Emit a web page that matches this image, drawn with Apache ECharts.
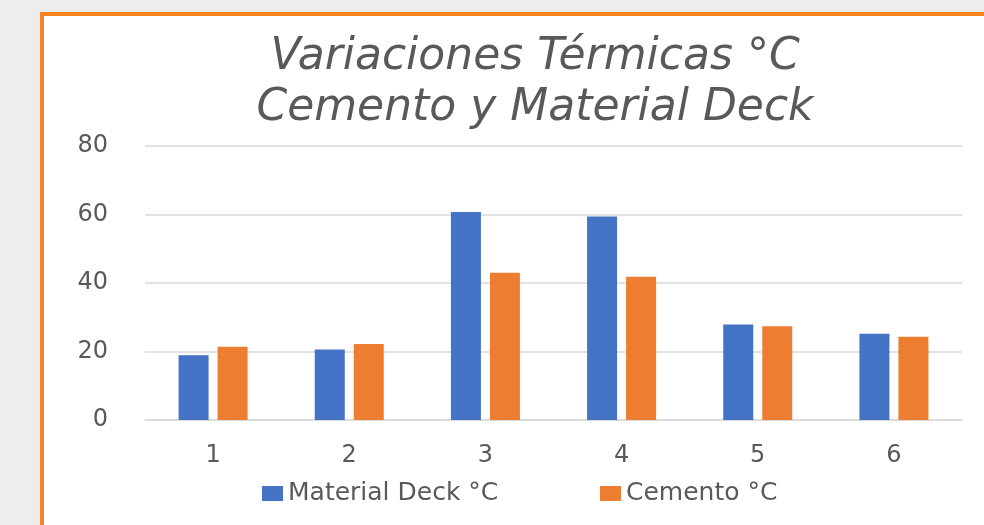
<!DOCTYPE html>
<html><head><meta charset="utf-8">
<script src="https://cdn.jsdelivr.net/npm/echarts@6/dist/echarts.min.js"></script>
<style>html,body{margin:0;padding:0;background:#ededed;}#c{width:984px;height:525px;}</style>
</head><body><div id="c"></div>
<script>
const categories = ['1','2','3','4','5','6'];
const deckValues = [18.9, 20.6, 60.7, 59.4, 27.9, 25.2];
const cementoValues = [21.4, 22.2, 43.0, 41.8, 27.4, 24.3];
const seriesNames = ['Material Deck °C', 'Cemento °C'];
const titleLines = ['Variaciones Térmicas °C', 'Cemento y Material Deck'];

const chart = echarts.init(document.getElementById('c'));
const font = '"DejaVu Sans", sans-serif';
const legendText = {fontFamily: font, fontSize: 25, color: '#595959'};
chart.setOption({
  backgroundColor: '#ededed',
  graphic: [{
    type: 'rect', z: -10, silent: true,
    shape: {x: 42, y: 14, width: 1000, height: 600},
    style: {fill: '#ffffff', stroke: '#f8831f', lineWidth: 4}
  }],
  title: {
    text: titleLines.join('\n'),
    left: 530, top: 27, textAlign: 'center',
    textStyle: {fontFamily: font, fontStyle: 'italic', fontWeight: 'normal', fontSize: 44, color: '#595959', lineHeight: 51}
  },
  legend: [
    {data: [seriesNames[0]], left: 257, top: 476, itemWidth: 21, itemHeight: 15, itemGap: 10, icon: 'rect', textStyle: legendText},
    {data: [seriesNames[1]], left: 595, top: 476, itemWidth: 21, itemHeight: 15, itemGap: 10, icon: 'rect', textStyle: legendText}
  ],
  grid: {left: 145, right: 22, top: 146, bottom: 105},
  xAxis: {
    type: 'category', data: categories,
    axisLine: {lineStyle: {color: '#d9d9d9', width: 1.5}},
    axisTick: {show: false},
    axisLabel: {fontFamily: font, fontSize: 24, color: '#595959', margin: 24}
  },
  yAxis: {
    type: 'value', min: 0, max: 80, interval: 20,
    axisLine: {show: false}, axisTick: {show: false},
    splitLine: {lineStyle: {color: '#d9d9d9', width: 1.5}},
    axisLabel: {fontFamily: font, fontSize: 24, color: '#595959', margin: 37}
  },
  series: [
    {name: seriesNames[0], type: 'bar', data: deckValues, barWidth: 30, barGap: '30%', itemStyle: {color: '#4472c4'}},
    {name: seriesNames[1], type: 'bar', data: cementoValues, barWidth: 30, itemStyle: {color: '#ed7d31'}}
  ]
});
</script></body></html>
